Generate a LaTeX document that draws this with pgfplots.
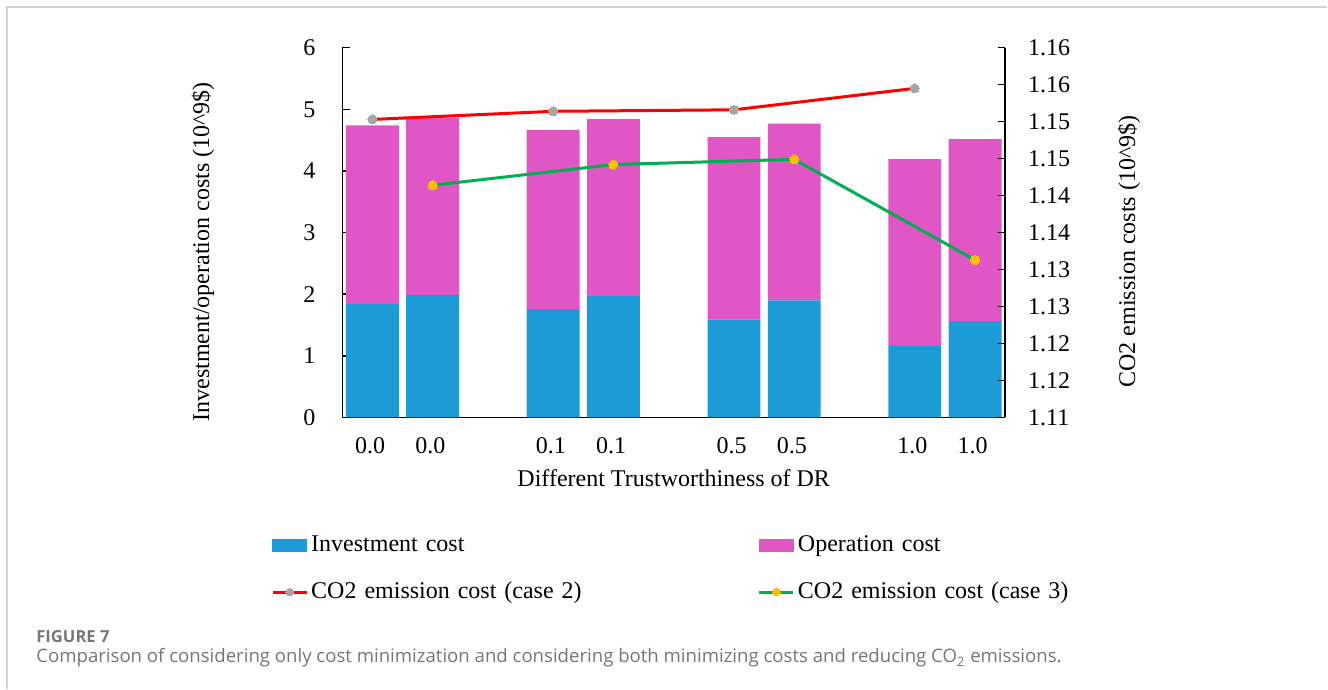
\documentclass[border=0pt]{standalone}
\usepackage{fontspec}
\setmainfont{Liberation Serif}
\newfontfamily\capfont{Open Sans}
\usepackage{pgfplots}
\usepackage{pgfplotstable}
\pgfplotsset{compat=1.18}

\definecolor{invest}{RGB}{28,155,214}
\definecolor{oper}{RGB}{224,86,197}
\definecolor{caseTwo}{RGB}{255,0,0}
\definecolor{caseThree}{RGB}{0,176,80}
\definecolor{markTwo}{RGB}{165,165,165}
\definecolor{markThree}{RGB}{255,192,0}
\definecolor{framegray}{RGB}{210,210,210}
\definecolor{captxt}{RGB}{118,118,118}

% bar groups sit at 0,1 | 3,4 | 6,7 | 9,10 (empty slots between groups)
\pgfplotstableread{
x   invest  oper
0   1.84    2.90
1   1.985   2.88
3   1.76    2.905
4   1.97    2.87
6   1.59    2.96
7   1.90    2.87
9   1.163   3.027
10  1.563   2.952
}\costs

\pgfplotsset{
  barlegend/.style={legend image code/.code={\fill[#1] (0pt,-3pt) rectangle (17pt,3pt);}},
  linelegend/.style={legend image code/.code={\draw[##1, mark repeat=2, mark phase=2, mark size=1.9pt]
    plot coordinates {(0pt,0pt) (8.5pt,0pt) (17pt,0pt)};}},
  commonax/.style={
    scale only axis, width=331.6pt, height=185pt,
    at={(171.25pt,-208.85pt)}, anchor=south west,
    xmin=-0.5, xmax=10.5,
    font=\fontsize{12}{14}\selectfont,
    axis line style={black, line width=0.75pt},
    tick style={black, line width=0.75pt},
    tick align=inside, major tick length=3.8pt,
    /pgf/number format/assume math mode=true,
  }
}

\begin{document}
\begin{tikzpicture}[x=1pt,y=1pt]
\path (0,0) rectangle (664,-344.5);
\draw[framegray, line width=0.75pt] (3.5,-344.5) -- (3.5,-3.5) -- (664,-3.5);

\begin{axis}[commonax,
  ybar stacked, bar width=26.5pt,
  ymin=0, ymax=6, ytick={0,1,2,3,4,5,6},
  yticklabels={0,1,2,3,4,5,6},
  axis x line*=bottom, axis y line*=left,
  xtick={0,1,3,4,6,7,9,10},
  xticklabels={0.0,0.0,0.1,0.1,0.5,0.5,1.0,1.0},
  x tick style={draw=none},
  xticklabel style={yshift=-6.5pt, xshift=-1.2pt},
  yticklabel style={xshift=-10pt},
  xlabel={Different Trustworthiness of DR},
  ylabel={Investment/operation costs (10\textasciicircum 9\$)},
  every axis x label/.style={at={(rel axis cs:0.5,-0.163)}, anchor=center},
  every axis y label/.style={at={(rel axis cs:-0.21,0.448)}, anchor=center, rotate=90},
]
\addplot[fill=invest, draw=none] table[x=x, y=invest] {\costs};
\addplot[fill=oper, draw=none] table[x=x, y=oper] {\costs};
\end{axis}

\begin{axis}[commonax,
  ymin=1.11, ymax=1.16,
  axis y line*=right, axis x line=none,
  ytick={1.11,1.115,1.12,1.125,1.13,1.135,1.14,1.145,1.15,1.155,1.16},
  yticklabels={1.11,1.12,1.12,1.13,1.13,1.14,1.14,1.15,1.15,1.16,1.16},
  yticklabel style={xshift=8pt},
  ylabel={CO2 emission costs (10\textasciicircum 9\$)},
  every axis y label/.style={at={(rel axis cs:1.187,0.449)}, anchor=center, rotate=90},
  legend columns=2,
  legend cell align=left,
  legend style={at={(rel axis cs:-0.1078,-0.3143)}, anchor=north west,
    draw=none, fill=none, inner sep=0pt, row sep=12.5pt,
    /tikz/every even column/.append style={column sep=22pt},
    nodes={inner xsep=1.5pt, inner ysep=0pt, text width=200pt, align=left,
      text height=8.5pt, text depth=2.5pt, font=\fontsize{12}{14}\selectfont}},
]
\addlegendimage{barlegend=invest}
\addlegendentry{Investment cost}
\addlegendimage{barlegend=oper}
\addlegendentry{Operation cost}

\addplot[caseTwo, line width=1.5pt, mark=*, mark size=2.25pt,
  mark options={draw=markTwo, fill=markTwo, line width=0pt}, linelegend]
  coordinates {(0,1.1503) (3,1.1514) (6,1.1516) (9,1.1545)};
\addlegendentry{CO2 emission cost (case 2)}

\addplot[caseThree, line width=1.5pt, mark=*, mark size=2.25pt,
  mark options={draw=markThree, fill=markThree, line width=0pt}, linelegend]
  coordinates {(1,1.1414) (4,1.1442) (7,1.1449) (10,1.1313)};
\addlegendentry{CO2 emission cost (case 3)}
\end{axis}

\node[anchor=base west, inner sep=0pt, text=captxt, font=\capfont\bfseries\fontsize{8.3}{10}\selectfont]
  at (18,-321.35) {FIGURE 7};
\node[anchor=base west, inner sep=0pt, text=captxt, font=\capfont\fontsize{9.3}{11}\selectfont]
  at (18,-331.65) {Comparison of considering only cost minimization and considering both minimizing costs and reducing CO\textsubscript{2} emissions.};
\end{tikzpicture}
\end{document}
